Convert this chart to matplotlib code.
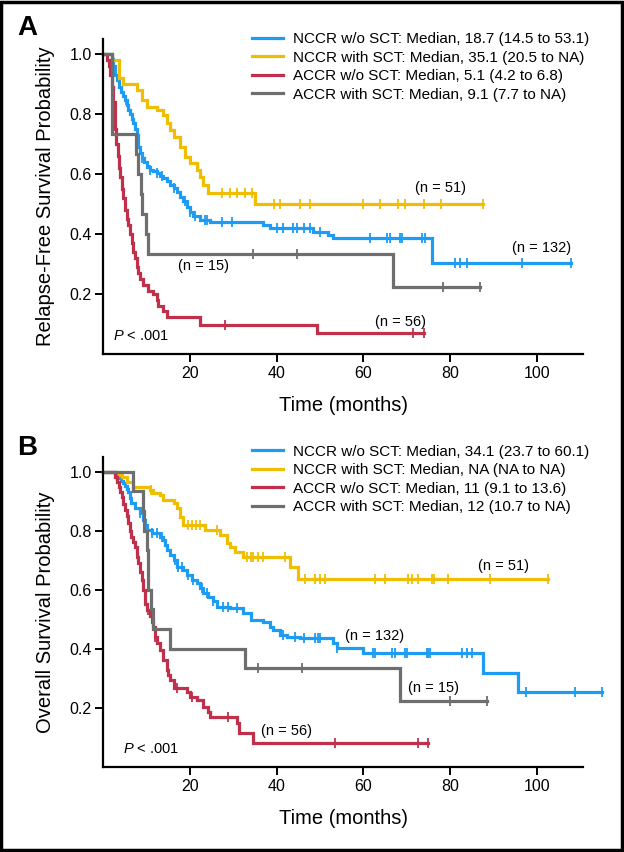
import numpy as np
import matplotlib
matplotlib.use("Agg")
import matplotlib.pyplot as plt
from matplotlib.patches import Rectangle

plt.rcParams['font.family'] = ['Liberation Sans', 'DejaVu Sans']
plt.rcParams['mathtext.fontset'] = 'custom'
plt.rcParams['mathtext.it'] = 'Liberation Sans:italic'
plt.rcParams['mathtext.rm'] = 'Liberation Sans'

##------------------------------------------
# colours of the four groups
C_BLUE = '#1E9BF2'
C_YEL = '#F0BE00'
C_RED = '#C0304B'
C_GRAY = '#6E6E6E'

##------------------------------------------
# Panel A : relapse-free survival (event time, survival after event)
A_nccr_wo_t = [1.9, 2.3, 2.7, 3.1, 3.5, 4.0, 4.6, 5.0, 5.4, 5.8, 6.2, 6.6, 6.9, 7.3, 7.7, 7.9,
               8.1, 8.5, 8.9, 9.3, 10.0, 10.8, 11.5, 12.3, 13.1, 13.8, 14.6, 15.4, 16.2, 16.9,
               17.7, 18.5, 19.2, 20.0, 20.8, 22.3, 24.6, 36.9, 38.5, 48.5, 51.9, 53.1, 75.8]
A_nccr_wo_s = [0.985, 0.96, 0.93, 0.915, 0.89, 0.875, 0.86, 0.847, 0.83, 0.815, 0.80, 0.785, 0.77,
               0.75, 0.73, 0.71, 0.69, 0.67, 0.655, 0.64, 0.625, 0.615, 0.61, 0.603, 0.595, 0.588,
               0.578, 0.565, 0.552, 0.54, 0.525, 0.51, 0.49, 0.475, 0.46, 0.448, 0.441, 0.43,
               0.419, 0.408, 0.397, 0.386, 0.304]
A_nccr_wo_c = [5.2, 8.9, 10.8, 12.3, 13.5, 16.2, 18.9, 20.0, 21.2, 23.5, 23.9, 27.3, 29.6, 40.0,
               41.5, 43.8, 44.6, 46.2, 47.7, 50.0, 61.5, 65.4, 66.2, 68.5, 68.9, 73.5, 74.3, 81.2,
               82.3, 83.9, 96.6, 107.9]

A_nccr_with_t = [1.9, 3.5, 4.6, 7.7, 8.9, 10.0, 12.3, 13.8, 14.6, 15.4, 16.2, 17.7, 18.9, 20.0,
                 21.6, 22.3, 23.1, 24.2, 35.0]
A_nccr_with_s = [0.98, 0.92, 0.90, 0.88, 0.847, 0.824, 0.813, 0.797, 0.769, 0.747, 0.724, 0.691,
                 0.658, 0.636, 0.613, 0.591, 0.563, 0.538, 0.50]
A_nccr_with_c = [27.3, 29.2, 30.8, 32.7, 34.2, 39.3, 40.8, 45.4, 47.7, 60.0, 63.9, 68.1, 69.6,
                 73.9, 78.0, 87.7]

A_accr_wo_t = [0.8, 1.2, 1.6, 2.0, 2.3, 2.6, 2.8, 3.0, 3.3, 3.6, 3.9, 4.2, 4.6, 5.0, 5.4, 5.8,
               6.2, 6.6, 6.9, 7.3, 7.7, 8.1, 8.5, 9.2, 10.4, 11.5, 12.3, 12.7, 13.8, 14.6, 22.3,
               49.2]
A_accr_wo_s = [0.98, 0.96, 0.93, 0.89, 0.84, 0.79, 0.75, 0.70, 0.66, 0.62, 0.59, 0.55, 0.52, 0.48,
               0.45, 0.43, 0.40, 0.37, 0.34, 0.32, 0.29, 0.27, 0.25, 0.23, 0.21, 0.20, 0.18, 0.16,
               0.145, 0.125, 0.098, 0.07]
A_accr_wo_c = [28.1, 71.5, 73.9]

A_accr_with_t = [2.0, 7.5, 7.9, 8.7, 9.0, 9.8, 10.2, 66.9]
A_accr_with_s = [0.733, 0.667, 0.6, 0.533, 0.467, 0.4, 0.333, 0.222]
A_accr_with_c = [34.6, 44.6, 78.5, 86.9]

A_labels = ['NCCR w/o SCT: Median, 18.7 (14.5 to 53.1)',
            'NCCR with SCT: Median, 35.1 (20.5 to NA)',
            'ACCR w/o SCT: Median, 5.1 (4.2 to 6.8)',
            'ACCR with SCT: Median, 9.1 (7.7 to NA)']

##------------------------------------------
# Panel B : overall survival
B_nccr_wo_t = [3.0, 3.5, 4.0, 4.6, 5.0, 5.4, 5.8, 6.2, 6.5, 7.3, 8.5, 9.2, 9.6, 10.0, 11.2, 13.1,
               13.8, 14.3, 14.6, 15.4, 16.2, 16.9, 18.5, 19.2, 20.4, 21.6, 22.3, 23.1, 24.2, 25.4,
               26.2, 29.2, 32.3, 34.1, 36.9, 38.5, 39.2, 40.8, 42.3, 45.4, 53.0, 53.9, 60.0, 87.7,
               95.8]
B_nccr_wo_s = [0.99, 0.98, 0.97, 0.961, 0.95, 0.94, 0.932, 0.91, 0.893, 0.876, 0.859, 0.836, 0.82,
               0.802, 0.791, 0.78, 0.768, 0.75, 0.735, 0.718, 0.701, 0.678, 0.667, 0.65, 0.633,
               0.622, 0.605, 0.59, 0.575, 0.56, 0.542, 0.537, 0.52, 0.497, 0.49, 0.475, 0.463,
               0.446, 0.44, 0.435, 0.418, 0.401, 0.384, 0.319, 0.254]
B_nccr_wo_c = [8.5, 11.2, 12.3, 13.5, 16.5, 17.3, 18.1, 19.6, 20.8, 22.7, 23.9, 25.4, 27.7, 28.8,
               30.8, 41.5, 44.2, 46.2, 48.9, 49.6, 50.0, 53.9, 62.3, 62.7, 66.6, 67.3, 69.6, 70.0,
               74.6, 75.0, 75.4, 82.7, 83.9, 85.0, 97.5, 108.9, 115.0]

B_nccr_with_t = [3.5, 4.2, 5.4, 6.9, 10.8, 11.5, 13.1, 13.8, 16.2, 16.9, 17.7, 18.5, 23.5, 26.9,
                 28.5, 29.2, 30.4, 32.3, 43.1, 45.0]
B_nccr_with_s = [0.99, 0.983, 0.966, 0.949, 0.938, 0.927, 0.921, 0.904, 0.893, 0.876, 0.847, 0.819,
                 0.802, 0.785, 0.757, 0.746, 0.729, 0.712, 0.676, 0.635]
B_nccr_with_c = [11.0, 19.5, 20.5, 21.5, 22.3, 26.2, 33.1, 34.0, 34.6, 35.8, 36.9, 41.9, 46.5, 48.9,
                 50.0, 51.1, 62.7, 65.0, 70.4, 71.2, 72.7, 75.8, 76.2, 79.6, 89.2, 102.7]

B_accr_wo_t = [2.7, 3.1, 3.5, 3.9, 4.2, 4.6, 5.0, 5.4, 5.8, 6.2, 6.5, 6.9, 7.3, 7.7, 8.1, 8.5, 8.9,
               9.2, 9.6, 10.0, 10.8, 11.2, 11.5, 12.0, 12.3, 13.1, 13.8, 14.6, 15.0, 15.4, 16.2,
               19.2, 20.0, 21.6, 23.1, 24.2, 24.6, 30.8, 31.2, 34.6]
B_accr_wo_s = [0.982, 0.966, 0.949, 0.93, 0.915, 0.89, 0.87, 0.85, 0.825, 0.80, 0.78, 0.76, 0.746,
               0.712, 0.69, 0.66, 0.633, 0.60, 0.55, 0.53, 0.51, 0.49, 0.475, 0.44, 0.418, 0.396,
               0.362, 0.328, 0.31, 0.294, 0.266, 0.254, 0.237, 0.226, 0.203, 0.186, 0.169, 0.147,
               0.113, 0.081]
B_accr_wo_c = [10.3, 12.0, 17.0, 20.5, 28.8, 53.5, 72.7, 75.0]

B_accr_with_t = [6.9, 9.2, 9.4, 10.0, 10.2, 10.4, 11.0, 11.5, 15.4, 32.7, 68.5]
B_accr_with_s = [0.933, 0.867, 0.8, 0.733, 0.667, 0.6, 0.533, 0.467, 0.4, 0.333, 0.222]
B_accr_with_c = [35.8, 45.8, 80.0, 88.5]

B_labels = ['NCCR w/o SCT: Median, 34.1 (23.7 to 60.1)',
            'NCCR with SCT: Median, NA (NA to NA)',
            'ACCR w/o SCT: Median, 11 (9.1 to 13.6)',
            'ACCR with SCT: Median, 12 (10.7 to NA)']

# (text, x, y) of the group size notes
A_notes = [('(n = 51)', 71.9, 0.553), ('(n = 132)', 94.2, 0.352),
           ('(n = 15)', 17.3, 0.293), ('(n = 56)', 62.7, 0.108)]
B_notes = [('(n = 51)', 86.5, 0.68), ('(n = 132)', 55.8, 0.443),
           ('(n = 15)', 70.4, 0.266), ('(n = 56)', 36.5, 0.121)]


def km_curve(ax, times, surv, cens, color, label):
    t = np.array([0.0] + list(times) + [max(max(cens), max(times))])
    s = np.array([1.0] + list(surv) + [surv[-1]])
    ax.step(t, s, where='post', color=color, lw=2.3, label=label, clip_on=False,
            solid_joinstyle='miter')
    idx = np.searchsorted(t, np.array(cens), side='right') - 1
    ax.plot(cens, s[idx], ls='none', marker='|', ms=6.5, mew=1.3, color=color,
            clip_on=False)


def panel(ax, curves, labels, notes, ylabel, letter, leg_y, letter_y, p_x):
    for (t, s, c), col, lab in zip(curves, [C_BLUE, C_YEL, C_RED, C_GRAY], labels):
        km_curve(ax, t, s, c, col, lab)
    ax.set_xlim(0, 110.7)
    ax.set_ylim(0, 1.05)
    ax.set_xticks([20, 40, 60, 80, 100])
    ax.set_yticks([0.2, 0.4, 0.6, 0.8, 1.0])
    ax.set_yticklabels(['0.2', '0.4', '0.6', '0.8', '1.0'])
    for sp in ['top', 'right']:
        ax.spines[sp].set_visible(False)
    for sp in ['left', 'bottom']:
        ax.spines[sp].set_linewidth(1.6)
    ax.tick_params(axis='both', direction='out', length=5.5, width=1.4, labelsize=11.5, pad=3)
    ax.set_xlabel('Time (months)', fontsize=14.5, labelpad=11)
    ax.set_ylabel(ylabel, fontsize=14.5, labelpad=10)
    for txt, x, y in notes:
        ax.text(x, y, txt, fontsize=10.5, ha='left', va='center')
    ax.text(p_x, 0.06, r'$P$ < .001', fontsize=10.5, ha='left', va='center')
    ax.legend(loc='upper left', bbox_to_anchor=(0.404, leg_y), bbox_transform=fig.transFigure,
              frameon=False, fontsize=11, handlelength=2.05, handletextpad=0.65,
              labelspacing=0.29, borderpad=0, borderaxespad=0)
    fig.text(0.027, letter_y, letter, fontsize=20, fontweight='bold', va='top', ha='left')


fig = plt.figure(figsize=(6.24, 8.52), dpi=100)
axA = fig.add_axes([0.1656, 0.5845, 0.7687, 0.3697])
axB = fig.add_axes([0.1656, 0.1001, 0.7687, 0.3636])

panel(axA,
      [(A_nccr_wo_t, A_nccr_wo_s, A_nccr_wo_c), (A_nccr_with_t, A_nccr_with_s, A_nccr_with_c),
       (A_accr_wo_t, A_accr_wo_s, A_accr_wo_c), (A_accr_with_t, A_accr_with_s, A_accr_with_c)],
      A_labels, A_notes, 'Relapse-Free Survival Probability', 'A', 0.962, 0.982, 2.3)
panel(axB,
      [(B_nccr_wo_t, B_nccr_wo_s, B_nccr_wo_c), (B_nccr_with_t, B_nccr_with_s, B_nccr_with_c),
       (B_accr_wo_t, B_accr_wo_s, B_accr_wo_c), (B_accr_with_t, B_accr_with_s, B_accr_with_c)],
      B_labels, B_notes, 'Overall Survival Probability', 'B', 0.478, 0.490, 4.6)

# black frame around the whole figure
fig.patches.append(Rectangle((0.002, 0.002), 0.994, 0.996, transform=fig.transFigure,
                             fill=False, edgecolor='black', lw=2.5))

fig.savefig('out.png', dpi=100)
